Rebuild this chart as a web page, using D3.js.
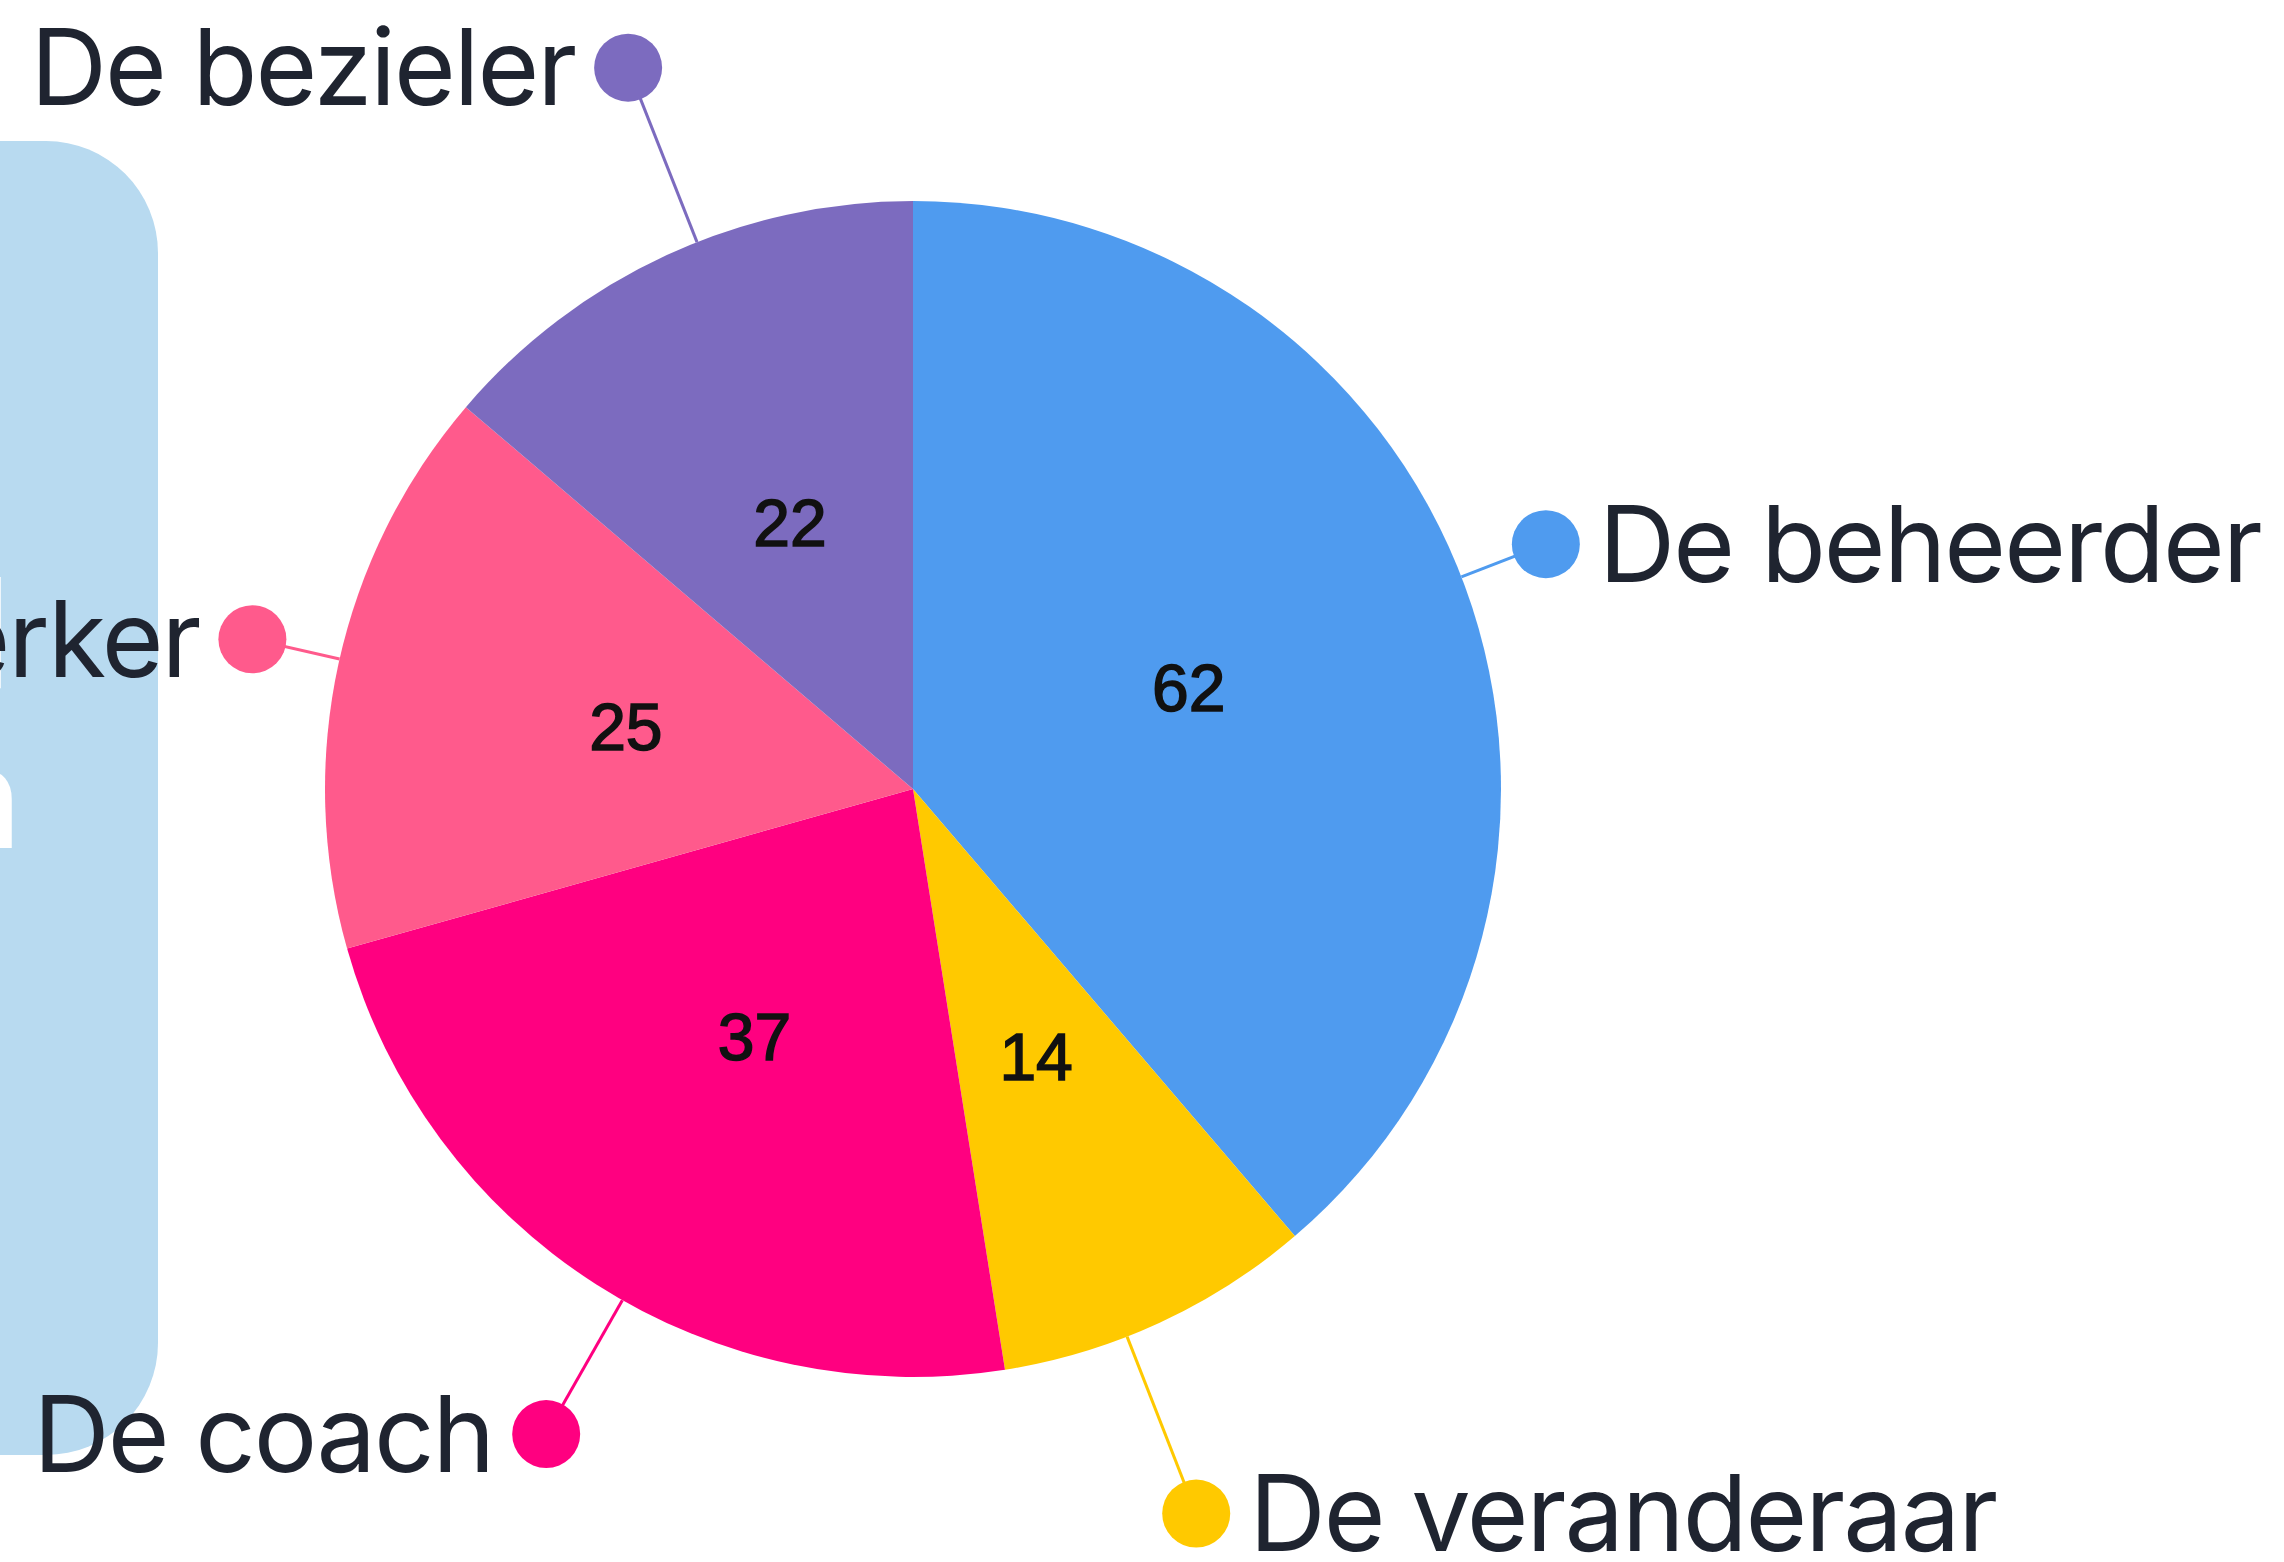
<!DOCTYPE html>
<html>
<head>
<meta charset="utf-8">
<script src="https://cdn.jsdelivr.net/npm/d3@7"></script>
<style>
  body { margin: 0; background: #fff; }
  svg { display: block; }
</style>
</head>
<body>
<svg id="chart"></svg>
<script>
// slice data, clockwise from 12 o'clock
var roles = ['De beheerder', 'De veranderaar', 'De coach', 'De netwerker', 'De bezieler'];
var counts = [62, 14, 37, 25, 22];
var colors = ['#4f9bef', '#ffc900', '#ff0080', '#ff5a8c', '#7c6bbf'];

// where each callout dot sits: angle nudge (deg) and distance in radii
var calloutShift = [-0.9, 3.4, -3.0, 0.4, 3.2];
var calloutDist = [1.154, 1.323, 1.262, 1.152, 1.319];

var width = 2284, height = 1562,
    cx = 913, cy = 789, radius = 588,
    dotR = 34, gap = 19,
    labelSize = 106, numSize = 66;

var svg = d3.select('#chart')
    .attr('width', width).attr('height', height);

// the light blue side panel, mostly cut off on the left
var panel = svg.append('g').attr('class', 'panel');
panel.append('rect')
    .attr('x', -300).attr('y', 141)
    .attr('width', 458).attr('height', 1314)
    .attr('rx', 112).attr('ry', 112)
    .attr('fill', '#b8daf0');
panel.selectAll('text')
    .data(['Verdeeld', 'in rollen'])
    .enter().append('text')
    .attr('x', function(d, i) { return i ? 20 : 10; })
    .attr('y', function(d, i) { return 688 + i * 160; })
    .attr('text-anchor', 'end')
    .attr('font-family', 'Lato, sans-serif')
    .attr('font-weight', 700)
    .attr('font-size', 150)
    .attr('fill', '#fff')
    .text(function(d) { return d; });

var pie = d3.pie().sort(null).value(function(d) { return d; });
var arcs = pie(counts);
var arc = d3.arc().innerRadius(0).outerRadius(radius);
var inner = d3.arc().innerRadius(radius * 0.5).outerRadius(radius * 0.5);

var g = svg.append('g').attr('transform', 'translate(' + cx + ',' + cy + ')');

g.selectAll('path.slice')
    .data(arcs)
    .enter().append('path')
    .attr('class', 'slice')
    .attr('d', arc)
    .attr('fill', function(d, i) { return colors[i]; });

g.selectAll('text.num')
    .data(arcs)
    .enter().append('text')
    .attr('class', 'num')
    .attr('x', function(d) { return inner.centroid(d)[0]; })
    .attr('y', function(d) { return inner.centroid(d)[1] + numSize * 0.36; })
    .attr('text-anchor', 'middle')
    .attr('font-family', '"Liberation Sans", Arial, sans-serif')
    .attr('font-size', numSize)
    .attr('fill', '#111')
    .attr('stroke', '#111')
    .attr('stroke-width', 1.6)
    .text(function(d) { return d.data; });

// callouts: line from the rim out to a dot, then the role name
var callouts = arcs.map(function(d, i) {
    var a = (d.startAngle + d.endAngle) / 2 + calloutShift[i] * Math.PI / 180,
        r = radius * calloutDist[i];
    return {
        i: i,
        a: a,
        x: r * Math.sin(a),
        y: -r * Math.cos(a),
        right: Math.sin(a) > 0
    };
});

var co = g.selectAll('g.callout')
    .data(callouts)
    .enter().append('g').attr('class', 'callout');

co.append('line')
    .attr('x1', function(d) { return radius * Math.sin(d.a); })
    .attr('y1', function(d) { return -radius * Math.cos(d.a); })
    .attr('x2', function(d) { return d.x; })
    .attr('y2', function(d) { return d.y; })
    .attr('stroke', function(d) { return colors[d.i]; })
    .attr('stroke-width', 3);

co.append('circle')
    .attr('cx', function(d) { return d.x; })
    .attr('cy', function(d) { return d.y; })
    .attr('r', dotR)
    .attr('fill', function(d) { return colors[d.i]; });

co.append('text')
    .attr('x', function(d) { return d.right ? d.x + dotR + gap : d.x - dotR - gap; })
    .attr('y', function(d) { return d.y + labelSize * 0.355; })
    .attr('text-anchor', function(d) { return d.right ? 'start' : 'end'; })
    .attr('font-family', 'Inter, "Noto Sans", sans-serif')
    .attr('font-size', labelSize)
    .attr('letter-spacing', -2)
    .attr('fill', '#1f2430')
    .text(function(d) { return roles[d.i]; });
</script>
</body>
</html>
